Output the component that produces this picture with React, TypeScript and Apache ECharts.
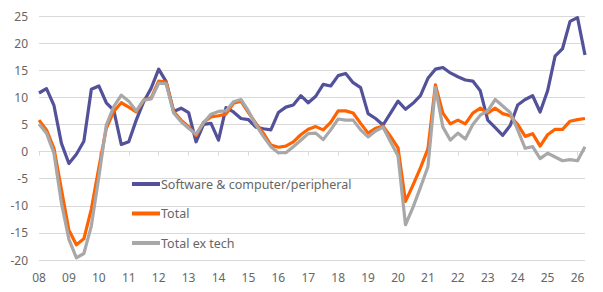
import React, { useEffect, useRef } from "react";
import * as echarts from "echarts";

// Year-on-year % change, quarterly, 2008 Q1 – 2026 Q2
const years = [
  "2008", "2009", "2010", "2011", "2012", "2013", "2014", "2015", "2016", "2017",
  "2018", "2019", "2020", "2021", "2022", "2023", "2024", "2025", "2026",
];
const quarterNames = ["Q1", "Q2", "Q3", "Q4"];
const periods: string[] = years
  .flatMap((y) => quarterNames.map((q) => `${y} ${q}`))
  .slice(0, 74);

const seriesNames = ["Software & computer/peripheral", "Total", "Total ex tech"];

const softwareComputer = [
  10.8, 11.6, 8.5, 1.5, -2.2, -0.5, 1.9, 11.5, 12.1, 9.0, 7.6, 1.3, 1.8,
  5.8, 9.2, 11.7, 15.2, 12.9, 7.4, 8.0, 7.2, 1.8, 5.0, 5.2, 2.1,
  8.1, 7.3, 6.1, 5.9, 4.5, 4.2, 4.0, 7.2, 8.2, 8.6, 10.3, 9.0,
  10.2, 12.4, 12.1, 14.0, 14.4, 12.7, 11.8, 7.0, 6.1, 4.9, 7.1, 9.3,
  7.8, 8.9, 10.3, 13.5, 15.2, 15.5, 14.5, 13.8, 13.2, 13.0, 11.2, 5.8,
  4.4, 3.0, 4.8, 8.6, 9.6, 10.3, 7.3, 11.2, 17.6, 19.0, 24.0, 24.7, 17.8,
];

const total = [
  5.8, 4.0, 0.6, -7.0, -14.5, -17.2, -16.1, -10.6, -3.0, 4.3, 7.4, 9.0, 8.2,
  7.3, 9.5, 9.9, 13.0, 12.8, 7.4, 5.8, 4.6, 2.9, 5.4, 6.4, 6.6,
  6.9, 8.9, 9.3, 7.2, 5.2, 3.4, 1.2, 0.8, 1.0, 1.8, 3.1, 4.1,
  4.6, 4.0, 5.4, 7.5, 7.5, 7.1, 5.2, 3.4, 4.3, 4.7, 2.8, 0.7,
  -9.2, -6.2, -3.0, 0.5, 12.3, 7.1, 5.1, 5.8, 5.1, 7.1, 8.0, 7.1,
  8.0, 7.0, 6.6, 5.0, 2.8, 3.3, 1.0, 3.1, 4.1, 4.1, 5.6, 5.9, 6.1,
];

const totalExTech = [
  5.1, 3.4, -0.3, -9.5, -16.2, -19.6, -18.8, -13.7, -4.7, 4.9, 8.3, 10.4, 9.3,
  7.5, 9.5, 9.7, 12.6, 12.5, 7.1, 5.5, 4.3, 3.2, 5.3, 6.9, 7.4,
  7.5, 9.2, 9.6, 7.5, 4.9, 2.8, 0.9, -0.2, -0.2, 0.9, 2.1, 3.3,
  3.4, 2.2, 4.0, 6.0, 5.8, 5.8, 4.0, 2.7, 3.8, 4.5, 1.8, -0.8,
  -13.5, -10.3, -6.6, -2.8, 11.8, 4.5, 2.1, 3.4, 2.3, 5.0, 6.7, 7.5,
  9.6, 8.4, 7.2, 4.0, 0.6, 0.9, -1.3, -0.3, -1.0, -1.7, -1.5, -1.7, 0.9,
];

const colors = ["#525199", "#FF6200", "#A8A8A8"];
const FONT = "Noto Sans";
const TEXT = "#666666";
const GRID = "#D9D9D9";

export default function App() {
  const ref = useRef<HTMLDivElement>(null);

  useEffect(() => {
    if (!ref.current) return;
    const chart = echarts.init(ref.current, undefined, { renderer: "svg" });
    const values = [softwareComputer, total, totalExTech];

    chart.setOption({
      animation: false,
      textStyle: { fontFamily: FONT },
      grid: { left: 39, right: 18, top: 16, bottom: 32, containLabel: false },
      legend: {
        orient: "vertical",
        left: 132,
        top: 176,
        padding: 0,
        icon: "rect",
        itemWidth: 28,
        itemHeight: 4,
        itemGap: 13.5,
        data: seriesNames,
        textStyle: {
          color: TEXT,
          fontSize: 12.5,
          fontFamily: FONT,
          lineHeight: 16,
          padding: [0, 0, 0, -4],
        },
      },
      xAxis: [
        {
          type: "category",
          data: periods,
          boundaryGap: false,
          position: "bottom",
          axisLine: { onZero: true, lineStyle: { color: GRID, width: 1 } },
          axisTick: { show: true, interval: 3, length: 4, lineStyle: { color: GRID } },
          axisLabel: { show: false },
          splitLine: { show: false },
        },
        {
          type: "category",
          data: periods,
          boundaryGap: false,
          position: "bottom",
          axisLine: { show: false, onZero: false },
          axisTick: { show: false },
          axisLabel: {
            interval: 3,
            margin: 11,
            color: TEXT,
            fontSize: 12,
            fontFamily: FONT,
            formatter: (v: string) => v.slice(2, 4),
          },
          splitLine: { show: false },
        },
      ],
      yAxis: {
        type: "value",
        min: -20,
        max: 25,
        interval: 5,
        axisLine: { show: false },
        axisTick: { show: false },
        axisLabel: { color: TEXT, fontSize: 12, fontFamily: FONT, margin: 11 },
        splitLine: { lineStyle: { color: GRID, width: 1 } },
      },
      series: seriesNames.map((name, k) => ({
        name,
        type: "line",
        xAxisIndex: 0,
        data: values[k],
        symbol: "none",
        lineStyle: { color: colors[k], width: 3.2, join: "round" },
        itemStyle: { color: colors[k] },
        z: 2 + k,
      })),
    });

    return () => chart.dispose();
  }, []);

  return (
    <div
      ref={ref}
      style={{ position: "fixed", left: 0, top: 0, width: 603, height: 292, background: "#fff" }}
    />
  );
}
